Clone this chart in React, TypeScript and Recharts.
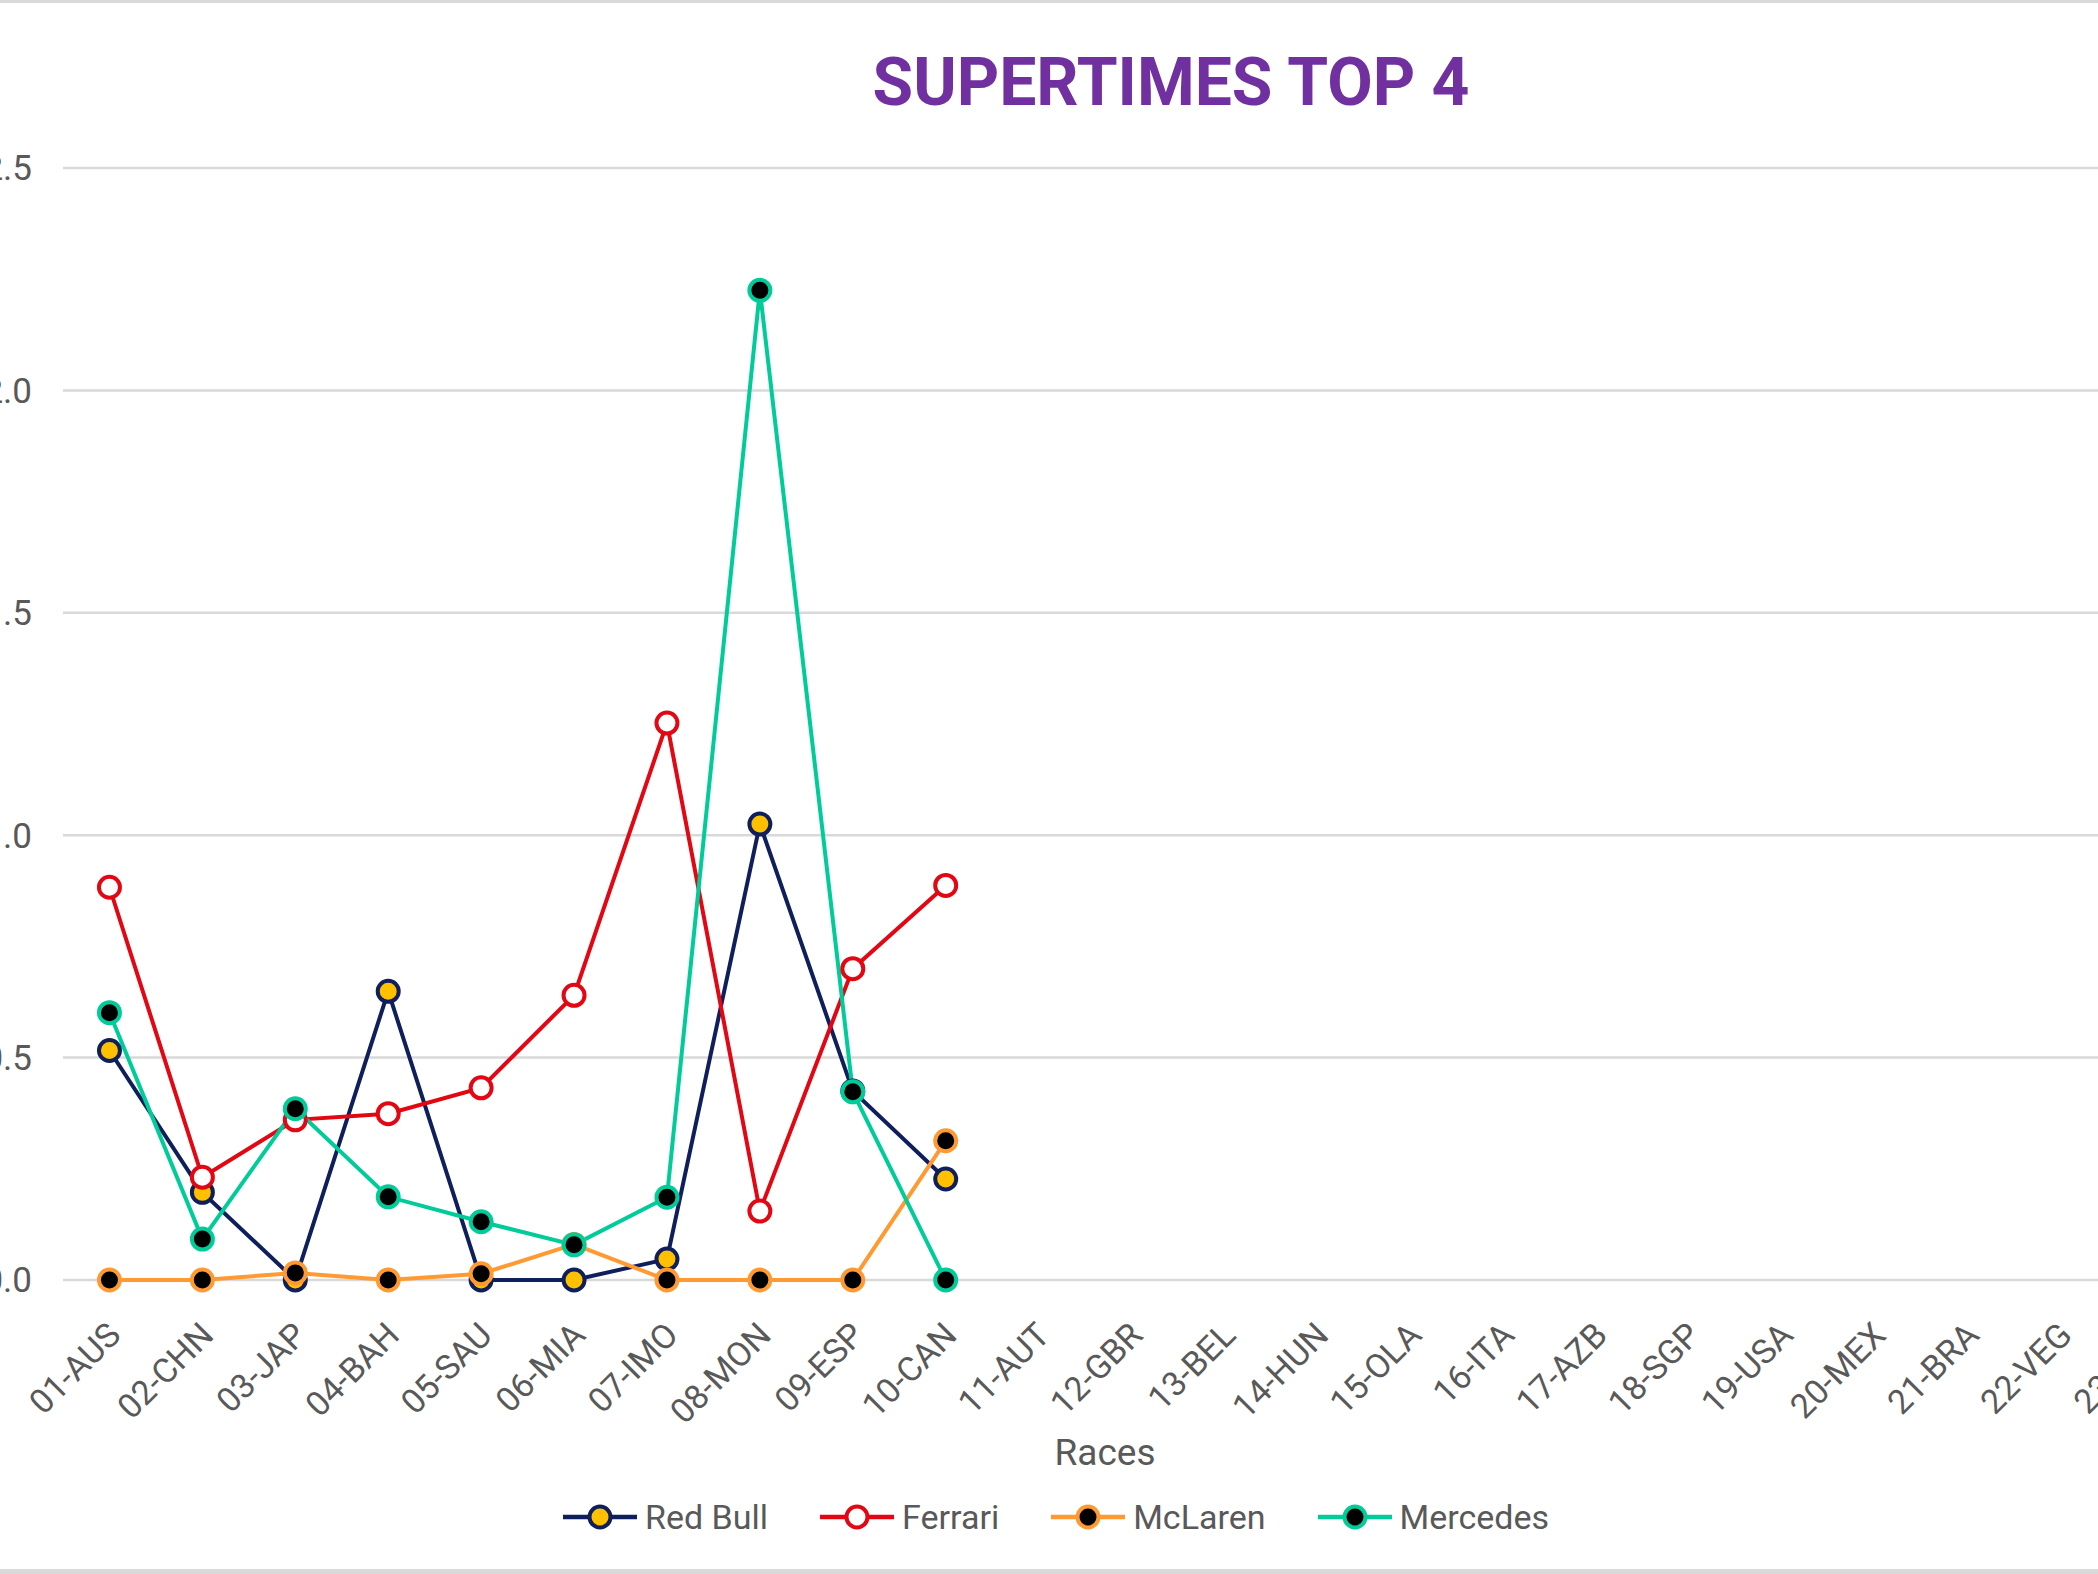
import React from 'react';
import { LineChart, Line, XAxis, YAxis, CartesianGrid } from 'recharts';

const races = [
  '01-AUS', '02-CHN', '03-JAP', '04-BAH', '05-SAU', '06-MIA', '07-IMO', '08-MON',
  '09-ESP', '10-CAN', '11-AUT', '12-GBR', '13-BEL', '14-HUN', '15-OLA', '16-ITA',
  '17-AZB', '18-SGP', '19-USA', '20-MEX', '21-BRA', '22-VEG', '23-QAT', '24-ABU',
];
const redBull = [0.516, 0.197, 0.0, 0.649, 0.0, 0.0, 0.047, 1.025, 0.425, 0.227];
const ferrari = [0.883, 0.231, 0.36, 0.374, 0.432, 0.64, 1.252, 0.155, 0.70, 0.887];
const mclaren = [0.0, 0.0, 0.016, 0.0, 0.014, 0.08, 0.0, 0.0, 0.0, 0.313];
const mercedes = [0.601, 0.092, 0.385, 0.187, 0.131, 0.079, 0.186, 2.225, 0.423, 0.0];
const yTicks = [0, 0.5, 1, 1.5, 2, 2.5];

const seriesInfo = [
  { key: 'redBull', name: 'Red Bull', line: '#0F1F5C', fill: '#FFC000' },
  { key: 'ferrari', name: 'Ferrari', line: '#E30613', fill: '#FFFFFF' },
  { key: 'mclaren', name: 'McLaren', line: '#FF9A33', fill: '#000000' },
  { key: 'mercedes', name: 'Mercedes', line: '#00CC99', fill: '#000000' },
];

const data = races.map((race, i) => ({
  race,
  redBull: i < redBull.length ? redBull[i] : null,
  ferrari: i < ferrari.length ? ferrari[i] : null,
  mclaren: i < mclaren.length ? mclaren[i] : null,
  mercedes: i < mercedes.length ? mercedes[i] : null,
}));

const FONT = 'Roboto, "Liberation Sans", sans-serif';
const GRAY = '#595959';
const CHART_LEFT = -100;
const PLOT_WIDTH = 2230;
const HALF_BAND = PLOT_WIDTH / races.length / 2;

const XTick = (props: any) => {
  const { x, y, payload } = props;
  const ax = x - 4;
  const ay = y;
  return (
    <text
      x={ax}
      y={ay}
      dy="0.71em"
      textAnchor="end"
      transform={`rotate(-45, ${ax}, ${ay})`}
      fill={GRAY}
      fontSize={34}
      fontFamily={FONT}
    >
      {payload.value}
    </text>
  );
};

const LegendItem = ({ s }: { s: typeof seriesInfo[number] }) => (
  <div style={{ display: 'flex', alignItems: 'center', marginRight: 50 }}>
    <svg width={78} height={30} style={{ display: 'block' }}>
      <line x1={2} y1={15} x2={76} y2={15} stroke={s.line} strokeWidth={4.5} />
      <circle cx={39} cy={15} r={10.5} fill={s.fill} stroke={s.line} strokeWidth={4} />
    </svg>
    <span style={{ marginLeft: 6, fontSize: 34, color: GRAY, fontFamily: FONT, lineHeight: '40px' }}>
      {s.name}
    </span>
  </div>
);

export default function App() {
  return (
    <div
      style={{
        position: 'absolute',
        left: 0,
        top: 0,
        width: 2098,
        height: 1574,
        overflow: 'hidden',
        background: '#FFFFFF',
      }}
    >
      <div style={{ position: 'absolute', left: 0, top: 0, width: 2098, height: 3, background: '#D9D9D9' }} />
      <div style={{ position: 'absolute', left: 0, top: 1569, width: 2098, height: 5, background: '#D9D9D9' }} />

      <div style={{ position: 'absolute', left: CHART_LEFT, top: 0 }}>
        <LineChart
          width={2500}
          height={1574}
          data={data}
          margin={{ top: 168, right: 2500 - 163 - PLOT_WIDTH, bottom: 194, left: 0 }}
        >
          <CartesianGrid horizontal vertical={false} stroke="#D9D9D9" strokeWidth={2.5} />
          <XAxis
            dataKey="race"
            axisLine={false}
            tickLine={false}
            tickSize={0}
            tickMargin={40}
            height={100}
            interval={0}
            padding={{ left: HALF_BAND, right: HALF_BAND }}
            tick={<XTick />}
          />
          <YAxis
            domain={[0, 2.5]}
            ticks={yTicks}
            axisLine={false}
            tickLine={false}
            tickSize={0}
            tickMargin={31}
            width={163}
            tickFormatter={(v: number) => v.toFixed(1)}
            tick={{ fill: GRAY, fontSize: 35, fontFamily: FONT }}
          />
          {seriesInfo.map((s) => (
            <Line
              key={s.key}
              type="linear"
              dataKey={s.key}
              name={s.name}
              stroke={s.line}
              strokeWidth={4}
              dot={{ r: 10.5, fill: s.fill, stroke: s.line, strokeWidth: 4 }}
              activeDot={false}
              isAnimationActive={false}
              connectNulls={false}
            />
          ))}
        </LineChart>
      </div>

      <svg
        width={2098}
        height={1574}
        style={{ position: 'absolute', left: 0, top: 0, pointerEvents: 'none' }}
      >
        <text
          x={1171}
          y={105}
          textAnchor="middle"
          fill="#7030A0"
          fontSize={66}
          fontWeight={700}
          fontFamily={FONT}
        >
          SUPERTIMES TOP 4
        </text>
        <text x={1105} y={1465} textAnchor="middle" fill={GRAY} fontSize={37} fontFamily={FONT}>
          Races
        </text>
      </svg>

      <div
        style={{
          position: 'absolute',
          left: 0,
          top: 1497,
          width: 2110 + 50,
          display: 'flex',
          justifyContent: 'center',
        }}
      >
        {seriesInfo.map((s) => (
          <LegendItem key={s.key} s={s} />
        ))}
      </div>
    </div>
  );
}
